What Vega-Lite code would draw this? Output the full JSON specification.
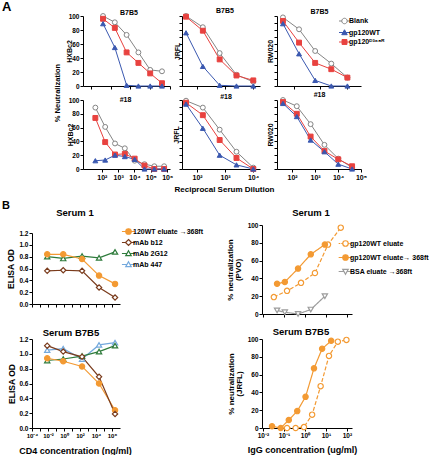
{
"$schema": "https://vega.github.io/schema/vega-lite/v6.json",
"padding": 0,
"config": {
  "view": {"stroke": null},
  "font": "Liberation Sans",
  "axis": {"grid": false, "domainColor": "#000", "domainWidth": 1, "tickColor": "#000", "tickSize": 3, "tickWidth": 1, "labelFont": "Liberation Sans", "labelFontWeight": "bold", "labelFontSize": 6.5, "labelColor": "#000", "labelPadding": 1, "labelFlush": false, "labelOverlap": false, "labelAngle": 0, "titleFont": "Liberation Sans", "titleFontWeight": "bold", "titleColor": "#000", "titleFontSize": 7},
  "title": {"font": "Liberation Sans", "fontWeight": "bold", "color": "#000", "fontSize": 7},
  "legend": {"labelFont": "Liberation Sans", "labelFontWeight": "bold", "labelColor": "#000"}
},
"datasets": {
"a": [
{"panel":"h1","series":"Blank","dil":40,"pct":100},{"panel":"h1","series":"Blank","dil":160,"pct":91},{"panel":"h1","series":"Blank","dil":640,"pct":73},{"panel":"h1","series":"Blank","dil":2560,"pct":48},{"panel":"h1","series":"Blank","dil":10240,"pct":23},{"panel":"h1","series":"Blank","dil":40960,"pct":21},
{"panel":"h1","series":"gp120\u1d30\u00b3\u2076\u2078\u1d3f","dil":40,"pct":96},{"panel":"h1","series":"gp120\u1d30\u00b3\u2076\u2078\u1d3f","dil":160,"pct":83},{"panel":"h1","series":"gp120\u1d30\u00b3\u2076\u2078\u1d3f","dil":640,"pct":48},{"panel":"h1","series":"gp120\u1d30\u00b3\u2076\u2078\u1d3f","dil":2560,"pct":33},{"panel":"h1","series":"gp120\u1d30\u00b3\u2076\u2078\u1d3f","dil":10240,"pct":18},{"panel":"h1","series":"gp120\u1d30\u00b3\u2076\u2078\u1d3f","dil":40960,"pct":4},
{"panel":"h1","series":"gp120WT","dil":40,"pct":89},{"panel":"h1","series":"gp120WT","dil":160,"pct":55},{"panel":"h1","series":"gp120WT","dil":640,"pct":1},{"panel":"h1","series":"gp120WT","dil":2560,"pct":0},{"panel":"h1","series":"gp120WT","dil":10240,"pct":0},{"panel":"h1","series":"gp120WT","dil":40960,"pct":0},
{"panel":"j1","series":"Blank","dil":40,"pct":100},{"panel":"j1","series":"Blank","dil":160,"pct":84},{"panel":"j1","series":"Blank","dil":640,"pct":47},{"panel":"j1","series":"Blank","dil":2560,"pct":16},{"panel":"j1","series":"Blank","dil":10240,"pct":6},
{"panel":"j1","series":"gp120\u1d30\u00b3\u2076\u2078\u1d3f","dil":40,"pct":99},{"panel":"j1","series":"gp120\u1d30\u00b3\u2076\u2078\u1d3f","dil":160,"pct":79},{"panel":"j1","series":"gp120\u1d30\u00b3\u2076\u2078\u1d3f","dil":640,"pct":38},{"panel":"j1","series":"gp120\u1d30\u00b3\u2076\u2078\u1d3f","dil":2560,"pct":15},{"panel":"j1","series":"gp120\u1d30\u00b3\u2076\u2078\u1d3f","dil":10240,"pct":8},
{"panel":"j1","series":"gp120WT","dil":40,"pct":76},{"panel":"j1","series":"gp120WT","dil":160,"pct":28},{"panel":"j1","series":"gp120WT","dil":640,"pct":1},{"panel":"j1","series":"gp120WT","dil":2560,"pct":0},{"panel":"j1","series":"gp120WT","dil":10240,"pct":0},
{"panel":"r1","series":"Blank","dil":40,"pct":98},{"panel":"r1","series":"Blank","dil":160,"pct":81},{"panel":"r1","series":"Blank","dil":640,"pct":50},{"panel":"r1","series":"Blank","dil":2560,"pct":32},{"panel":"r1","series":"Blank","dil":10240,"pct":12},
{"panel":"r1","series":"gp120\u1d30\u00b3\u2076\u2078\u1d3f","dil":40,"pct":93},{"panel":"r1","series":"gp120\u1d30\u00b3\u2076\u2078\u1d3f","dil":160,"pct":62},{"panel":"r1","series":"gp120\u1d30\u00b3\u2076\u2078\u1d3f","dil":640,"pct":33},{"panel":"r1","series":"gp120\u1d30\u00b3\u2076\u2078\u1d3f","dil":2560,"pct":24},{"panel":"r1","series":"gp120\u1d30\u00b3\u2076\u2078\u1d3f","dil":10240,"pct":12},
{"panel":"r1","series":"gp120WT","dil":40,"pct":89},{"panel":"r1","series":"gp120WT","dil":160,"pct":46},{"panel":"r1","series":"gp120WT","dil":640,"pct":8},{"panel":"r1","series":"gp120WT","dil":2560,"pct":0},{"panel":"r1","series":"gp120WT","dil":10240,"pct":0},
{"panel":"h2","series":"Blank","dil":40,"pct":89},{"panel":"h2","series":"Blank","dil":160,"pct":61},{"panel":"h2","series":"Blank","dil":640,"pct":37},{"panel":"h2","series":"Blank","dil":2560,"pct":30},{"panel":"h2","series":"Blank","dil":10240,"pct":12},{"panel":"h2","series":"Blank","dil":40960,"pct":7},{"panel":"h2","series":"Blank","dil":163840,"pct":4},{"panel":"h2","series":"Blank","dil":655360,"pct":4},
{"panel":"h2","series":"gp120\u1d30\u00b3\u2076\u2078\u1d3f","dil":40,"pct":74},{"panel":"h2","series":"gp120\u1d30\u00b3\u2076\u2078\u1d3f","dil":160,"pct":39},{"panel":"h2","series":"gp120\u1d30\u00b3\u2076\u2078\u1d3f","dil":640,"pct":21},{"panel":"h2","series":"gp120\u1d30\u00b3\u2076\u2078\u1d3f","dil":2560,"pct":22},{"panel":"h2","series":"gp120\u1d30\u00b3\u2076\u2078\u1d3f","dil":10240,"pct":15},{"panel":"h2","series":"gp120\u1d30\u00b3\u2076\u2078\u1d3f","dil":40960,"pct":5},{"panel":"h2","series":"gp120\u1d30\u00b3\u2076\u2078\u1d3f","dil":163840,"pct":0},{"panel":"h2","series":"gp120\u1d30\u00b3\u2076\u2078\u1d3f","dil":655360,"pct":0},
{"panel":"h2","series":"gp120WT","dil":40,"pct":12},{"panel":"h2","series":"gp120WT","dil":160,"pct":13},{"panel":"h2","series":"gp120WT","dil":640,"pct":20},{"panel":"h2","series":"gp120WT","dil":2560,"pct":18},{"panel":"h2","series":"gp120WT","dil":10240,"pct":14},{"panel":"h2","series":"gp120WT","dil":40960,"pct":0},{"panel":"h2","series":"gp120WT","dil":163840,"pct":0},{"panel":"h2","series":"gp120WT","dil":655360,"pct":0},
{"panel":"j2","series":"Blank","dil":40,"pct":99},{"panel":"j2","series":"Blank","dil":160,"pct":89},{"panel":"j2","series":"Blank","dil":640,"pct":57},{"panel":"j2","series":"Blank","dil":2560,"pct":25},{"panel":"j2","series":"Blank","dil":10240,"pct":2},
{"panel":"j2","series":"gp120\u1d30\u00b3\u2076\u2078\u1d3f","dil":40,"pct":96},{"panel":"j2","series":"gp120\u1d30\u00b3\u2076\u2078\u1d3f","dil":160,"pct":78},{"panel":"j2","series":"gp120\u1d30\u00b3\u2076\u2078\u1d3f","dil":640,"pct":42},{"panel":"j2","series":"gp120\u1d30\u00b3\u2076\u2078\u1d3f","dil":2560,"pct":16},{"panel":"j2","series":"gp120\u1d30\u00b3\u2076\u2078\u1d3f","dil":10240,"pct":0},
{"panel":"j2","series":"gp120WT","dil":40,"pct":94},{"panel":"j2","series":"gp120WT","dil":160,"pct":59},{"panel":"j2","series":"gp120WT","dil":640,"pct":20},{"panel":"j2","series":"gp120WT","dil":2560,"pct":6},{"panel":"j2","series":"gp120WT","dil":10240,"pct":0},
{"panel":"r2","series":"Blank","dil":40,"pct":100},{"panel":"r2","series":"Blank","dil":160,"pct":91},{"panel":"r2","series":"Blank","dil":640,"pct":65},{"panel":"r2","series":"Blank","dil":2560,"pct":35},{"panel":"r2","series":"Blank","dil":10240,"pct":15},{"panel":"r2","series":"Blank","dil":40960,"pct":2},
{"panel":"r2","series":"gp120\u1d30\u00b3\u2076\u2078\u1d3f","dil":40,"pct":97},{"panel":"r2","series":"gp120\u1d30\u00b3\u2076\u2078\u1d3f","dil":160,"pct":80},{"panel":"r2","series":"gp120\u1d30\u00b3\u2076\u2078\u1d3f","dil":640,"pct":47},{"panel":"r2","series":"gp120\u1d30\u00b3\u2076\u2078\u1d3f","dil":2560,"pct":26},{"panel":"r2","series":"gp120\u1d30\u00b3\u2076\u2078\u1d3f","dil":10240,"pct":14},{"panel":"r2","series":"gp120\u1d30\u00b3\u2076\u2078\u1d3f","dil":40960,"pct":4},
{"panel":"r2","series":"gp120WT","dil":40,"pct":95},{"panel":"r2","series":"gp120WT","dil":160,"pct":76},{"panel":"r2","series":"gp120WT","dil":640,"pct":42},{"panel":"r2","series":"gp120WT","dil":2560,"pct":25},{"panel":"r2","series":"gp120WT","dil":10240,"pct":7},{"panel":"r2","series":"gp120WT","dil":40960,"pct":0}
],
"e": [
{"panel":"s1","series":"mAb 2G12","conc":0.008,"od":0.80},{"panel":"s1","series":"mAb 2G12","conc":0.8,"od":0.77},{"panel":"s1","series":"mAb 2G12","conc":180,"od":0.81},{"panel":"s1","series":"mAb 2G12","conc":24000,"od":0.78},{"panel":"s1","series":"mAb 2G12","conc":2400000,"od":0.88},
{"panel":"s1","series":"mAb b12","conc":0.008,"od":0.56},{"panel":"s1","series":"mAb b12","conc":0.8,"od":0.57},{"panel":"s1","series":"mAb b12","conc":180,"od":0.56},{"panel":"s1","series":"mAb b12","conc":24000,"od":0.28},{"panel":"s1","series":"mAb b12","conc":2400000,"od":0.11},
{"panel":"s1","series":"120WT eluate \u2192368ft","conc":0.008,"od":0.84},{"panel":"s1","series":"120WT eluate \u2192368ft","conc":0.8,"od":0.84},{"panel":"s1","series":"120WT eluate \u2192368ft","conc":180,"od":0.76},{"panel":"s1","series":"120WT eluate \u2192368ft","conc":24000,"od":0.48},{"panel":"s1","series":"120WT eluate \u2192368ft","conc":2400000,"od":0.34},
{"panel":"b7","series":"mAb 447","conc":0.008,"od":1.05},{"panel":"b7","series":"mAb 447","conc":0.8,"od":1.07},{"panel":"b7","series":"mAb 447","conc":180,"od":0.93},{"panel":"b7","series":"mAb 447","conc":24000,"od":1.12},{"panel":"b7","series":"mAb 447","conc":2400000,"od":1.15},
{"panel":"b7","series":"mAb 2G12","conc":0.008,"od":0.91},{"panel":"b7","series":"mAb 2G12","conc":0.8,"od":0.93},{"panel":"b7","series":"mAb 2G12","conc":180,"od":0.97},{"panel":"b7","series":"mAb 2G12","conc":24000,"od":1.03},{"panel":"b7","series":"mAb 2G12","conc":2400000,"od":1.11},
{"panel":"b7","series":"120WT eluate \u2192368ft","conc":0.008,"od":0.94},{"panel":"b7","series":"120WT eluate \u2192368ft","conc":0.8,"od":0.90},{"panel":"b7","series":"120WT eluate \u2192368ft","conc":180,"od":0.83},{"panel":"b7","series":"120WT eluate \u2192368ft","conc":24000,"od":0.60},{"panel":"b7","series":"120WT eluate \u2192368ft","conc":2400000,"od":0.24},
{"panel":"b7","series":"mAb b12","conc":0.008,"od":1.11},{"panel":"b7","series":"mAb b12","conc":0.8,"od":1.03},{"panel":"b7","series":"mAb b12","conc":180,"od":0.96},{"panel":"b7","series":"mAb b12","conc":24000,"od":0.69},{"panel":"b7","series":"mAb b12","conc":2400000,"od":0.19}
],
"n": [
{"panel":"pvo","series":"BSA eluate \u2192368ft","igg":0.047,"pct":4},{"panel":"pvo","series":"BSA eluate \u2192368ft","igg":0.11,"pct":2},{"panel":"pvo","series":"BSA eluate \u2192368ft","igg":0.47,"pct":0},{"panel":"pvo","series":"BSA eluate \u2192368ft","igg":1.9,"pct":5},{"panel":"pvo","series":"BSA eluate \u2192368ft","igg":8.9,"pct":20},
{"panel":"pvo","series":"gp120WT eluate","igg":0.033,"pct":19},{"panel":"pvo","series":"gp120WT eluate","igg":0.14,"pct":26},{"panel":"pvo","series":"gp120WT eluate","igg":0.65,"pct":35},{"panel":"pvo","series":"gp120WT eluate","igg":3.0,"pct":46},{"panel":"pvo","series":"gp120WT eluate","igg":12.6,"pct":78},{"panel":"pvo","series":"gp120WT eluate","igg":51,"pct":97},
{"panel":"pvo","series":"gp120WT eluate\u2192 368ft","igg":0.047,"pct":34},{"panel":"pvo","series":"gp120WT eluate\u2192 368ft","igg":0.11,"pct":36},{"panel":"pvo","series":"gp120WT eluate\u2192 368ft","igg":0.47,"pct":51},{"panel":"pvo","series":"gp120WT eluate\u2192 368ft","igg":1.9,"pct":67},{"panel":"pvo","series":"gp120WT eluate\u2192 368ft","igg":8.9,"pct":78},
{"panel":"jrfl","series":"gp120WT eluate","igg":0.14,"pct":0},{"panel":"jrfl","series":"gp120WT eluate","igg":0.36,"pct":0},{"panel":"jrfl","series":"gp120WT eluate","igg":0.9,"pct":1},{"panel":"jrfl","series":"gp120WT eluate","igg":2.2,"pct":15},{"panel":"jrfl","series":"gp120WT eluate","igg":5.6,"pct":47},{"panel":"jrfl","series":"gp120WT eluate","igg":14,"pct":81},{"panel":"jrfl","series":"gp120WT eluate","igg":37,"pct":97},{"panel":"jrfl","series":"gp120WT eluate","igg":95,"pct":99},
{"panel":"jrfl","series":"gp120WT eluate\u2192 368ft","igg":0.027,"pct":2},{"panel":"jrfl","series":"gp120WT eluate\u2192 368ft","igg":0.07,"pct":0},{"panel":"jrfl","series":"gp120WT eluate\u2192 368ft","igg":0.17,"pct":9},{"panel":"jrfl","series":"gp120WT eluate\u2192 368ft","igg":0.43,"pct":19},{"panel":"jrfl","series":"gp120WT eluate\u2192 368ft","igg":1.07,"pct":35},{"panel":"jrfl","series":"gp120WT eluate\u2192 368ft","igg":2.7,"pct":67},{"panel":"jrfl","series":"gp120WT eluate\u2192 368ft","igg":6.6,"pct":89},{"panel":"jrfl","series":"gp120WT eluate\u2192 368ft","igg":17.8,"pct":98}
]
},
"resolve": {"scale": {"color": "independent", "fill": "independent", "shape": "independent", "strokeDash": "independent"}},
"bounds": "flush",
"spacing": 225,
"vconcat": [
{
 "resolve": {"scale": {"color": "independent", "fill": "independent", "shape": "independent", "strokeDash": "independent"}},
 "columns": 6, "align": "each", "bounds": "flush", "spacing": 0,
 "concat": [
  {"width": 83, "height": 16, "title": {"text": "A", "anchor": "start", "frame": "group", "fontSize": 13, "dx": 2, "offset": -14}, "data": {"values": []}, "mark": "point"},
  {"width": 1, "height": 16, "data": {"values": []}, "mark": "point"},
  {"width": 12, "height": 16, "data": {"values": []}, "mark": "point"},
  {"width": 1, "height": 16, "data": {"values": []}, "mark": "point"},
  {"width": 17, "height": 16, "data": {"values": []}, "mark": "point"},
  {"width": 1, "height": 16, "data": {"values": []}, "mark": "point"},

  {"width": 83, "height": 1, "data": {"values": []}, "mark": "point"},
  {
   "width": 87, "height": 70,
   "title": {"text": "B7B5", "frame": "group", "dx": 2.5, "offset": -4},
   "data": {"name": "a"},
   "transform": [{"filter": "datum.panel == 'h1'"}],
   "encoding": {
    "x": {"field": "dil", "type": "quantitative", "scale": {"type": "log", "domain": [3.8, 105000], "nice": false}, "axis": {"orient": "bottom", "values": [10, 100, 1000, 10000, 100000], "labels": false, "title": null}},
    "y": {"field": "pct", "type": "quantitative", "scale": {"domain": [0, 100], "nice": false}, "axis": {"orient": "left", "values": [0, 20, 40, 60, 80, 100], "title": "HXBc2", "titleX": -13.5, "titleY": 35, "titleBaseline": "middle"}},
    "color": {"field": "series", "type": "nominal", "scale": {"domain": ["Blank", "gp120WT", "gp120\u1d30\u00b3\u2076\u2078\u1d3f"], "range": ["#858585", "#3a58b0", "#e8423f"]}, "legend": null}
   },
   "layer": [
    {"mark": {"type": "line", "strokeWidth": 1}, "encoding": {}},
    {"mark": {"type": "point", "size": 24, "opacity": 1, "strokeWidth": 1},
     "encoding": {
      "fill": {"field": "series", "type": "nominal", "scale": {"domain": ["Blank", "gp120WT", "gp120\u1d30\u00b3\u2076\u2078\u1d3f"], "range": ["#ffffff", "#3a58b0", "#e8423f"]}, "legend": null},
      "shape": {"field": "series", "type": "nominal", "scale": {"domain": ["Blank", "gp120WT", "gp120\u1d30\u00b3\u2076\u2078\u1d3f"], "range": ["circle", "triangle-up", "square"]}, "legend": null}
     }}
   ]
  },
  {"width": 12, "height": 1, "data": {"values": []}, "mark": "point"},
  {
   "width": 78, "height": 70,
   "title": {"text": "B7B5", "frame": "group", "dx": 4, "offset": -2},
   "data": {"name": "a"},
   "transform": [{"filter": "datum.panel == 'j1'"}],
   "encoding": {
    "x": {"field": "dil", "type": "quantitative", "scale": {"type": "log", "domain": [28.7, 17800], "nice": false}, "axis": {"orient": "bottom", "values": [100, 1000, 10000], "labels": false, "title": null}},
    "y": {"field": "pct", "type": "quantitative", "scale": {"domain": [0, 100], "nice": false}, "axis": {"orient": "left", "values": [0, 10, 20, 30, 40, 50, 60, 70, 80, 90, 100], "labels": false, "title": "JRFL", "titleX": -5, "titleY": 35, "titleBaseline": "middle"}},
    "color": {"field": "series", "type": "nominal", "scale": {"domain": ["Blank", "gp120WT", "gp120\u1d30\u00b3\u2076\u2078\u1d3f"], "range": ["#858585", "#3a58b0", "#e8423f"]}, "legend": null}
   },
   "layer": [
    {"mark": {"type": "line", "strokeWidth": 1}, "encoding": {}},
    {"mark": {"type": "point", "size": 24, "opacity": 1, "strokeWidth": 1},
     "encoding": {
      "fill": {"field": "series", "type": "nominal", "scale": {"domain": ["Blank", "gp120WT", "gp120\u1d30\u00b3\u2076\u2078\u1d3f"], "range": ["#ffffff", "#3a58b0", "#e8423f"]}, "legend": null},
      "shape": {"field": "series", "type": "nominal", "scale": {"domain": ["Blank", "gp120WT", "gp120\u1d30\u00b3\u2076\u2078\u1d3f"], "range": ["circle", "triangle-up", "square"]}, "legend": null}
     }}
   ]
  },
  {"width": 17, "height": 1, "data": {"values": []}, "mark": "point"},
  {
   "width": 84, "height": 70,
   "title": {"text": "B7B5", "frame": "group", "dx": 0.5, "offset": -2},
   "data": {"name": "a"},
   "transform": [{"filter": "datum.panel == 'r1'"}],
   "encoding": {
    "x": {"field": "dil", "type": "quantitative", "scale": {"type": "log", "domain": [24, 33000], "nice": false}, "axis": {"orient": "bottom", "values": [100, 1000, 10000], "labels": false, "title": null}},
    "y": {"field": "pct", "type": "quantitative", "scale": {"domain": [0, 100], "nice": false}, "axis": {"orient": "left", "values": [0, 10, 20, 30, 40, 50, 60, 70, 80, 90, 100], "labels": false, "title": "RW020", "titleX": -6.5, "titleY": 35, "titleBaseline": "middle"}}
   },
   "resolve": {"scale": {"color": "independent", "fill": "independent", "shape": "independent"}},
   "layer": [
    {"mark": {"type": "line", "strokeWidth": 1},
     "encoding": {"color": {"field": "series", "type": "nominal", "scale": {"domain": ["Blank", "gp120WT", "gp120\u1d30\u00b3\u2076\u2078\u1d3f"], "range": ["#858585", "#3a58b0", "#e8423f"]}, "legend": null}}},
    {"mark": {"type": "point", "size": 24, "opacity": 1, "strokeWidth": 1},
     "encoding": {
      "color": {"field": "series", "type": "nominal", "scale": {"domain": ["Blank", "gp120WT", "gp120\u1d30\u00b3\u2076\u2078\u1d3f"], "range": ["#858585", "#3a58b0", "#e8423f"]}, "legend": null},
      "fill": {"field": "series", "type": "nominal", "scale": {"domain": ["Blank", "gp120WT", "gp120\u1d30\u00b3\u2076\u2078\u1d3f"], "range": ["#ffffff", "#3a58b0", "#e8423f"]}, "legend": null},
      "shape": {"field": "series", "type": "nominal", "scale": {"domain": ["Blank", "gp120WT", "gp120\u1d30\u00b3\u2076\u2078\u1d3f"], "range": ["circle", "triangle-up", "square"]}, "legend": null}
     }},
    {"transform": [{"filter": "false"}],
     "mark": {"type": "point", "size": 30, "opacity": 1, "strokeWidth": 1},
     "encoding": {
      "color": {"field": "series", "type": "nominal", "scale": {"domain": ["Blank", "gp120WT", "gp120\u1d30\u00b3\u2076\u2078\u1d3f"], "range": ["#858585", "#3a58b0", "#e8423f"]}, "legend": {"title": null, "orient": "none", "legendX": 64, "legendY": 1.5, "symbolSize": 30, "symbolStrokeWidth": 1, "labelFontSize": 7, "labelOffset": 1, "rowPadding": 0.5, "padding": 0}},
      "fill": {"field": "series", "type": "nominal", "scale": {"domain": ["Blank", "gp120WT", "gp120\u1d30\u00b3\u2076\u2078\u1d3f"], "range": ["#ffffff", "#3a58b0", "#e8423f"]}, "legend": {"title": null, "orient": "none", "legendX": 64, "legendY": 1.5, "symbolSize": 30, "symbolStrokeWidth": 1, "labelFontSize": 7, "labelOffset": 1, "rowPadding": 0.5, "padding": 0}},
      "shape": {"field": "series", "type": "nominal", "scale": {"domain": ["Blank", "gp120WT", "gp120\u1d30\u00b3\u2076\u2078\u1d3f"], "range": ["M-2,0H-1M1,0H2M-1,0A1,1,0,1,1,1,0A1,1,0,1,1,-1,0Z", "M-2,0H-0.56M0.56,0H2M0,-1L1,0.8L-1,0.8Z", "M-2,0H-0.9M0.9,0H2M-0.9,-0.9H0.9V0.9H-0.9Z"]}, "legend": {"title": null, "orient": "none", "legendX": 64, "legendY": 1.5, "symbolSize": 30, "symbolStrokeWidth": 1, "labelFontSize": 7, "labelOffset": 1, "rowPadding": 0.5, "padding": 0}}
     }}
   ]
  },

  {"width": 1, "height": 14, "data": {"values": []}, "mark": "point"},
  {"width": 87, "height": 14, "title": {"text": "% Neutralization", "orient": "left", "anchor": "middle", "frame": "group", "fontSize": 7.5, "offset": 22}, "data": {"values": []}, "mark": "point"},
  {"width": 1, "height": 1, "data": {"values": []}, "mark": "point"},
  {"width": 1, "height": 1, "data": {"values": []}, "mark": "point"},
  {"width": 1, "height": 1, "data": {"values": []}, "mark": "point"},
  {"width": 1, "height": 1, "data": {"values": []}, "mark": "point"},

  {"width": 1, "height": 1, "data": {"values": []}, "mark": "point"},
  {
   "width": 87, "height": 69,
   "title": {"text": "#18", "frame": "group", "dx": -1, "offset": -6},
   "data": {"name": "a"},
   "transform": [{"filter": "datum.panel == 'h2'"}],
   "encoding": {
    "x": {"field": "dil", "type": "quantitative", "scale": {"type": "log", "domain": [7, 1500000], "nice": false}, "axis": {"orient": "bottom", "values": [100, 1000, 10000, 100000, 1000000], "labelFontSize": 7, "labelExpr": "datum.value == 100 ? '10\u00b2' : datum.value == 1000 ? '10\u00b3' : datum.value == 10000 ? '10\u2074' : datum.value == 100000 ? '10\u2075' : '10\u2076'", "title": null}},
    "y": {"field": "pct", "type": "quantitative", "scale": {"domain": [0, 100], "nice": false}, "axis": {"orient": "left", "values": [0, 20, 40, 60, 80, 100], "title": "HXBc2", "titleX": -13, "titleY": 34.5, "titleBaseline": "middle"}},
    "color": {"field": "series", "type": "nominal", "scale": {"domain": ["Blank", "gp120WT", "gp120\u1d30\u00b3\u2076\u2078\u1d3f"], "range": ["#858585", "#3a58b0", "#e8423f"]}, "legend": null}
   },
   "layer": [
    {"mark": {"type": "line", "strokeWidth": 1}, "encoding": {}},
    {"mark": {"type": "point", "size": 24, "opacity": 1, "strokeWidth": 1},
     "encoding": {
      "fill": {"field": "series", "type": "nominal", "scale": {"domain": ["Blank", "gp120WT", "gp120\u1d30\u00b3\u2076\u2078\u1d3f"], "range": ["#ffffff", "#3a58b0", "#e8423f"]}, "legend": null},
      "shape": {"field": "series", "type": "nominal", "scale": {"domain": ["Blank", "gp120WT", "gp120\u1d30\u00b3\u2076\u2078\u1d3f"], "range": ["circle", "triangle-up", "square"]}, "legend": null}
     }}
   ]
  },
  {"width": 1, "height": 1, "data": {"values": []}, "mark": "point"},
  {
   "width": 78, "height": 69,
   "title": {"text": "#18", "frame": "group", "dx": 5, "offset": -4},
   "data": {"name": "a"},
   "transform": [{"filter": "datum.panel == 'j2'"}],
   "encoding": {
    "x": {"field": "dil", "type": "quantitative", "scale": {"type": "log", "domain": [28.7, 17800], "nice": false}, "axis": {"orient": "bottom", "values": [100, 1000, 10000], "labelFontSize": 7, "labelExpr": "datum.value == 100 ? '10\u00b2' : datum.value == 1000 ? '10\u00b3' : '10\u2074'", "title": "Reciprocal Serum Dilution", "titleFontSize": 8, "titleX": 42, "titleY": 20, "titleBaseline": "middle"}},
    "y": {"field": "pct", "type": "quantitative", "scale": {"domain": [0, 100], "nice": false}, "axis": {"orient": "left", "values": [0, 10, 20, 30, 40, 50, 60, 70, 80, 90, 100], "labels": false, "title": "JRFL", "titleX": -6, "titleY": 34.5, "titleBaseline": "middle"}},
    "color": {"field": "series", "type": "nominal", "scale": {"domain": ["Blank", "gp120WT", "gp120\u1d30\u00b3\u2076\u2078\u1d3f"], "range": ["#858585", "#3a58b0", "#e8423f"]}, "legend": null}
   },
   "layer": [
    {"mark": {"type": "line", "strokeWidth": 1}, "encoding": {}},
    {"mark": {"type": "point", "size": 24, "opacity": 1, "strokeWidth": 1},
     "encoding": {
      "fill": {"field": "series", "type": "nominal", "scale": {"domain": ["Blank", "gp120WT", "gp120\u1d30\u00b3\u2076\u2078\u1d3f"], "range": ["#ffffff", "#3a58b0", "#e8423f"]}, "legend": null},
      "shape": {"field": "series", "type": "nominal", "scale": {"domain": ["Blank", "gp120WT", "gp120\u1d30\u00b3\u2076\u2078\u1d3f"], "range": ["circle", "triangle-up", "square"]}, "legend": null}
     }}
   ]
  },
  {"width": 1, "height": 1, "data": {"values": []}, "mark": "point"},
  {
   "width": 84, "height": 69,
   "title": {"text": "#18", "frame": "group", "dx": 0.5, "offset": -2},
   "data": {"name": "a"},
   "transform": [{"filter": "datum.panel == 'r2'"}],
   "encoding": {
    "x": {"field": "dil", "type": "quantitative", "scale": {"type": "log", "domain": [22, 100000], "nice": false}, "axis": {"orient": "bottom", "values": [100, 1000, 10000, 100000], "labelFontSize": 7, "labelExpr": "datum.value == 100 ? '10\u00b2' : datum.value == 1000 ? '10\u00b3' : datum.value == 10000 ? '10\u2074' : '10\u2075'", "title": null}},
    "y": {"field": "pct", "type": "quantitative", "scale": {"domain": [0, 100], "nice": false}, "axis": {"orient": "left", "values": [0, 10, 20, 30, 40, 50, 60, 70, 80, 90, 100], "labels": false, "title": "RW020", "titleX": -6.5, "titleY": 34.5, "titleBaseline": "middle"}},
    "color": {"field": "series", "type": "nominal", "scale": {"domain": ["Blank", "gp120WT", "gp120\u1d30\u00b3\u2076\u2078\u1d3f"], "range": ["#858585", "#3a58b0", "#e8423f"]}, "legend": null}
   },
   "layer": [
    {"mark": {"type": "line", "strokeWidth": 1}, "encoding": {}},
    {"mark": {"type": "point", "size": 24, "opacity": 1, "strokeWidth": 1},
     "encoding": {
      "fill": {"field": "series", "type": "nominal", "scale": {"domain": ["Blank", "gp120WT", "gp120\u1d30\u00b3\u2076\u2078\u1d3f"], "range": ["#ffffff", "#3a58b0", "#e8423f"]}, "legend": null},
      "shape": {"field": "series", "type": "nominal", "scale": {"domain": ["Blank", "gp120WT", "gp120\u1d30\u00b3\u2076\u2078\u1d3f"], "range": ["circle", "triangle-up", "square"]}, "legend": null}
     }}
   ]
  }
 ]
},
{
 "resolve": {"scale": {"color": "independent", "fill": "independent", "shape": "independent", "strokeDash": "independent"}},
 "columns": 4, "align": "each", "bounds": "flush", "spacing": 0,
 "concat": [
  {"width": 32, "height": 1, "title": {"text": "B", "anchor": "start", "frame": "group", "fontSize": 11, "dx": 2, "offset": 14}, "data": {"values": []}, "mark": "point"},
  {
   "resolve": {"scale": {"color": "independent", "fill": "independent", "shape": "independent", "strokeDash": "independent"}},
   "bounds": "flush", "spacing": 7,
   "vconcat": [
    {"width": 1, "height": 1, "data": {"values": []}, "mark": "point"},
    {
     "width": 88, "height": 71,
     "title": {"text": "Serum 1", "frame": "group", "fontSize": 9.5, "dx": -1, "offset": 11},
     "data": {"name": "e"},
     "transform": [{"filter": "datum.panel == 's1'"}],
     "encoding": {
      "x": {"field": "conc", "type": "quantitative", "scale": {"type": "log", "domain": [0.0001, 10000000], "nice": false}, "axis": {"orient": "bottom", "values": [0.0001, 0.001, 0.01, 0.1, 1, 10, 100, 1000, 10000, 100000, 1000000], "labels": false, "title": null}},
      "y": {"field": "od", "type": "quantitative", "scale": {"domain": [0, 1.2], "nice": false}, "axis": {"orient": "left", "values": [0, 0.2, 0.4, 0.6, 0.8, 1, 1.2], "format": ".1f", "title": "ELISA OD", "titleFontSize": 8.5, "titleX": -22, "titleY": 35.5, "titleBaseline": "middle"}}
     },
     "resolve": {"scale": {"color": "independent", "fill": "independent", "shape": "independent"}},
     "layer": [
      {"mark": {"type": "line", "strokeWidth": 1.2},
       "encoding": {"color": {"field": "series", "type": "nominal", "scale": {"domain": ["120WT eluate \u2192368ft", "mAb b12", "mAb 2G12", "mAb 447"], "range": ["#f39a33", "#7a3b1c", "#2e7b3b", "#74a9dd"]}, "legend": null}}},
      {"mark": {"type": "point", "size": 28, "opacity": 1, "strokeWidth": 1.2},
       "encoding": {
        "color": {"field": "series", "type": "nominal", "scale": {"domain": ["120WT eluate \u2192368ft", "mAb b12", "mAb 2G12", "mAb 447"], "range": ["#f39a33", "#7a3b1c", "#2e7b3b", "#74a9dd"]}, "legend": null},
        "fill": {"field": "series", "type": "nominal", "scale": {"domain": ["120WT eluate \u2192368ft", "mAb b12", "mAb 2G12", "mAb 447"], "range": ["#f39a33", "#ffffff", "#ffffff", "#ffffff"]}, "legend": null},
        "shape": {"field": "series", "type": "nominal", "scale": {"domain": ["120WT eluate \u2192368ft", "mAb b12", "mAb 2G12", "mAb 447"], "range": ["circle", "diamond", "triangle-up", "triangle-up"]}, "legend": null}
       }},
      {"transform": [{"filter": "false"}],
       "mark": {"type": "point", "size": 30, "opacity": 1, "strokeWidth": 1.2},
       "encoding": {
        "color": {"field": "series", "type": "nominal", "scale": {"domain": ["120WT eluate \u2192368ft", "mAb b12", "mAb 2G12", "mAb 447"], "range": ["#f39a33", "#7a3b1c", "#2e7b3b", "#74a9dd"]}, "legend": {"title": null, "orient": "none", "legendX": 93, "legendY": -5, "symbolSize": 30, "symbolStrokeWidth": 1.2, "labelFontSize": 7, "labelOffset": 1, "rowPadding": 0, "padding": 0}},
        "fill": {"field": "series", "type": "nominal", "scale": {"domain": ["120WT eluate \u2192368ft", "mAb b12", "mAb 2G12", "mAb 447"], "range": ["#f39a33", "#ffffff", "#ffffff", "#ffffff"]}, "legend": {"title": null, "orient": "none", "legendX": 93, "legendY": -5, "symbolSize": 30, "symbolStrokeWidth": 1.2, "labelFontSize": 7, "labelOffset": 1, "rowPadding": 0, "padding": 0}},
        "shape": {"field": "series", "type": "nominal", "scale": {"domain": ["120WT eluate \u2192368ft", "mAb b12", "mAb 2G12", "mAb 447"], "range": ["M-2.4,0H-1M1,0H2.4M-1,0A1,1,0,1,1,1,0A1,1,0,1,1,-1,0Z", "M-2.4,0H-1.1M1.1,0H2.4M0,-1.1L1.1,0L0,1.1L-1.1,0Z", "M-2.4,0H-0.56M0.56,0H2.4M0,-1L1,0.8L-1,0.8Z", "M-2.4,0H-0.56M0.56,0H2.4M0,-1L1,0.8L-1,0.8Z"]}, "legend": {"title": null, "orient": "none", "legendX": 93, "legendY": -5, "symbolSize": 30, "symbolStrokeWidth": 1.2, "labelFontSize": 7, "labelOffset": 1, "rowPadding": 0, "padding": 0}}
       }}
     ]
    }
   ]
  },
  {"width": 142, "height": 1, "data": {"values": []}, "mark": "point"},
  {
   "width": 90, "height": 89,
   "title": {"text": "Serum 1", "frame": "group", "fontSize": 9.5, "dx": 4, "offset": 4.5},
   "data": {"name": "n"},
   "transform": [{"filter": "datum.panel == 'pvo'"}],
   "encoding": {
    "x": {"field": "igg", "type": "quantitative", "scale": {"type": "log", "domain": [0.009, 175], "nice": false}, "axis": {"orient": "bottom", "values": [0.01, 0.1, 1, 10, 100], "labels": false, "title": null}},
    "y": {"field": "pct", "type": "quantitative", "scale": {"domain": [0, 100], "nice": false}, "axis": {"orient": "left", "values": [0, 20, 40, 60, 80, 100], "title": ["% neutralization", "(PVO)"], "titleFontSize": 8, "titleLineHeight": 8, "titleX": -36, "titleY": 44.5, "titleBaseline": "top"}}
   },
   "resolve": {"scale": {"color": "independent", "fill": "independent", "shape": "independent"}},
   "layer": [
    {"mark": {"type": "line", "strokeWidth": 1.2},
     "encoding": {
      "color": {"field": "series", "type": "nominal", "scale": {"domain": ["gp120WT eluate", "gp120WT eluate\u2192 368ft", "BSA eluate \u2192368ft"], "range": ["#f39a33", "#f39a33", "#9c9c9c"]}, "legend": null},
      "strokeDash": {"field": "series", "type": "nominal", "scale": {"domain": ["gp120WT eluate", "gp120WT eluate\u2192 368ft", "BSA eluate \u2192368ft"], "range": [[4, 2], [1, 0], [1, 0]]}, "legend": null}
     }},
    {"mark": {"type": "point", "size": 28, "opacity": 1, "strokeWidth": 1.2},
     "encoding": {
      "color": {"field": "series", "type": "nominal", "scale": {"domain": ["gp120WT eluate", "gp120WT eluate\u2192 368ft", "BSA eluate \u2192368ft"], "range": ["#f39a33", "#f39a33", "#9c9c9c"]}, "legend": null},
      "fill": {"field": "series", "type": "nominal", "scale": {"domain": ["gp120WT eluate", "gp120WT eluate\u2192 368ft", "BSA eluate \u2192368ft"], "range": ["#ffffff", "#f39a33", "#ffffff"]}, "legend": null},
      "shape": {"field": "series", "type": "nominal", "scale": {"domain": ["gp120WT eluate", "gp120WT eluate\u2192 368ft", "BSA eluate \u2192368ft"], "range": ["circle", "circle", "triangle-down"]}, "legend": null}
     }},
    {"transform": [{"filter": "false"}],
     "mark": {"type": "point", "size": 30, "opacity": 1, "strokeWidth": 1.2},
     "encoding": {
      "color": {"field": "series", "type": "nominal", "scale": {"domain": ["gp120WT eluate", "gp120WT eluate\u2192 368ft", "BSA eluate \u2192368ft"], "range": ["#f39a33", "#f39a33", "#9c9c9c"]}, "legend": {"title": null, "orient": "none", "legendX": 80, "legendY": 15, "symbolSize": 30, "symbolStrokeWidth": 1.2, "labelFontSize": 7, "labelOffset": 1, "rowPadding": 3, "padding": 0}},
      "fill": {"field": "series", "type": "nominal", "scale": {"domain": ["gp120WT eluate", "gp120WT eluate\u2192 368ft", "BSA eluate \u2192368ft"], "range": ["#ffffff", "#f39a33", "#ffffff"]}, "legend": {"title": null, "orient": "none", "legendX": 80, "legendY": 15, "symbolSize": 30, "symbolStrokeWidth": 1.2, "labelFontSize": 7, "labelOffset": 1, "rowPadding": 3, "padding": 0}},
      "shape": {"field": "series", "type": "nominal", "scale": {"domain": ["gp120WT eluate", "gp120WT eluate\u2192 368ft", "BSA eluate \u2192368ft"], "range": ["M-2.5,0H-1.9M-1.55,0H-1M1,0H1.55M1.9,0H2.5M-1,0A1,1,0,1,1,1,0A1,1,0,1,1,-1,0Z", "M-2.5,0H-1M1,0H2.5M-1,0A1,1,0,1,1,1,0A1,1,0,1,1,-1,0Z", "M-2.5,0H-0.56M0.56,0H2.5M0,1L1,-0.8L-1,-0.8Z"]}, "legend": {"title": null, "orient": "none", "legendX": 80, "legendY": 15, "symbolSize": 30, "symbolStrokeWidth": 1.2, "labelFontSize": 7, "labelOffset": 1, "rowPadding": 3, "padding": 0}}
     }}
   ]
  },

  {"width": 1, "height": 25, "data": {"values": []}, "mark": "point"},
  {"width": 1, "height": 1, "data": {"values": []}, "mark": "point"},
  {"width": 1, "height": 1, "data": {"values": []}, "mark": "point"},
  {"width": 1, "height": 1, "data": {"values": []}, "mark": "point"},

  {"width": 1, "height": 1, "data": {"values": []}, "mark": "point"},
  {
   "width": 88, "height": 89,
   "title": {"text": "Serum B7B5", "frame": "group", "fontSize": 9.5, "dx": -5, "offset": -1.5},
   "data": {"name": "e"},
   "transform": [{"filter": "datum.panel == 'b7'"}],
   "encoding": {
    "x": {"field": "conc", "type": "quantitative", "scale": {"type": "log", "domain": [0.0001, 10000000], "nice": false}, "axis": {"orient": "bottom", "values": [0.0001, 0.001, 0.01, 0.1, 1, 10, 100, 1000, 10000, 100000, 1000000], "labelFontSize": 6, "labelExpr": "datum.value == 0.0001 ? '10\u207b\u2074' : datum.value == 0.01 ? '10\u207b\u00b2' : datum.value == 1 ? '10\u2070' : datum.value == 100 ? '10\u00b2' : datum.value == 10000 ? '10\u2074' : datum.value == 1000000 ? '10\u2076' : ''", "title": "CD4 concentration (ng/ml)", "titleFontSize": 9, "titleX": 43, "titleY": 22, "titleBaseline": "middle"}},
    "y": {"field": "od", "type": "quantitative", "scale": {"domain": [0, 1.2], "nice": false}, "axis": {"orient": "left", "values": [0, 0.2, 0.4, 0.6, 0.8, 1, 1.2], "format": ".1f", "title": "ELISA OD", "titleFontSize": 8.5, "titleX": -21, "titleY": 44.5, "titleBaseline": "middle"}}
   },
   "layer": [
    {"mark": {"type": "line", "strokeWidth": 1.2},
     "encoding": {"color": {"field": "series", "type": "nominal", "scale": {"domain": ["120WT eluate \u2192368ft", "mAb b12", "mAb 2G12", "mAb 447"], "range": ["#f39a33", "#7a3b1c", "#2e7b3b", "#74a9dd"]}, "legend": null}}},
    {"mark": {"type": "point", "size": 28, "opacity": 1, "strokeWidth": 1.2},
     "encoding": {
      "color": {"field": "series", "type": "nominal", "scale": {"domain": ["120WT eluate \u2192368ft", "mAb b12", "mAb 2G12", "mAb 447"], "range": ["#f39a33", "#7a3b1c", "#2e7b3b", "#74a9dd"]}, "legend": null},
      "fill": {"field": "series", "type": "nominal", "scale": {"domain": ["120WT eluate \u2192368ft", "mAb b12", "mAb 2G12", "mAb 447"], "range": ["#f39a33", "#ffffff", "#ffffff", "#ffffff"]}, "legend": null},
      "shape": {"field": "series", "type": "nominal", "scale": {"domain": ["120WT eluate \u2192368ft", "mAb b12", "mAb 2G12", "mAb 447"], "range": ["circle", "diamond", "triangle-up", "triangle-up"]}, "legend": null}
     }}
   ]
  },
  {"width": 1, "height": 1, "data": {"values": []}, "mark": "point"},
  {
   "width": 90, "height": 89,
   "title": {"text": "Serum B7B5", "frame": "group", "fontSize": 9.5, "dx": -6, "offset": -1.5},
   "data": {"name": "n"},
   "transform": [{"filter": "datum.panel == 'jrfl'"}],
   "encoding": {
    "x": {"field": "igg", "type": "quantitative", "scale": {"type": "log", "domain": [0.009, 175], "nice": false}, "axis": {"orient": "bottom", "values": [0.01, 0.1, 1, 10, 100], "labelFontSize": 6.5, "labelExpr": "datum.value == 0.01 ? '10\u207b\u00b2' : datum.value == 0.1 ? '10\u207b\u00b9' : datum.value == 1 ? '10\u2070' : datum.value == 10 ? '10\u00b9' : '10\u00b2'", "title": "IgG concentration (ug/ml)", "titleFontSize": 9, "titleX": 40, "titleY": 21.5, "titleBaseline": "middle"}},
    "y": {"field": "pct", "type": "quantitative", "scale": {"domain": [0, 100], "nice": false}, "axis": {"orient": "left", "values": [0, 20, 40, 60, 80, 100], "title": ["% neutralization", "(JRFL)"], "titleFontSize": 8, "titleLineHeight": 8, "titleX": -35, "titleY": 44.5, "titleBaseline": "top"}}
   },
   "layer": [
    {"mark": {"type": "line", "strokeWidth": 1.2},
     "encoding": {
      "color": {"field": "series", "type": "nominal", "scale": {"domain": ["gp120WT eluate", "gp120WT eluate\u2192 368ft", "BSA eluate \u2192368ft"], "range": ["#f39a33", "#f39a33", "#9c9c9c"]}, "legend": null},
      "strokeDash": {"field": "series", "type": "nominal", "scale": {"domain": ["gp120WT eluate", "gp120WT eluate\u2192 368ft", "BSA eluate \u2192368ft"], "range": [[4, 2], [1, 0], [1, 0]]}, "legend": null}
     }},
    {"mark": {"type": "point", "size": 28, "opacity": 1, "strokeWidth": 1.2},
     "encoding": {
      "color": {"field": "series", "type": "nominal", "scale": {"domain": ["gp120WT eluate", "gp120WT eluate\u2192 368ft", "BSA eluate \u2192368ft"], "range": ["#f39a33", "#f39a33", "#9c9c9c"]}, "legend": null},
      "fill": {"field": "series", "type": "nominal", "scale": {"domain": ["gp120WT eluate", "gp120WT eluate\u2192 368ft", "BSA eluate \u2192368ft"], "range": ["#ffffff", "#f39a33", "#ffffff"]}, "legend": null},
      "shape": {"field": "series", "type": "nominal", "scale": {"domain": ["gp120WT eluate", "gp120WT eluate\u2192 368ft", "BSA eluate \u2192368ft"], "range": ["circle", "circle", "triangle-down"]}, "legend": null}
     }}
   ]
  }
 ]
}
]
}
